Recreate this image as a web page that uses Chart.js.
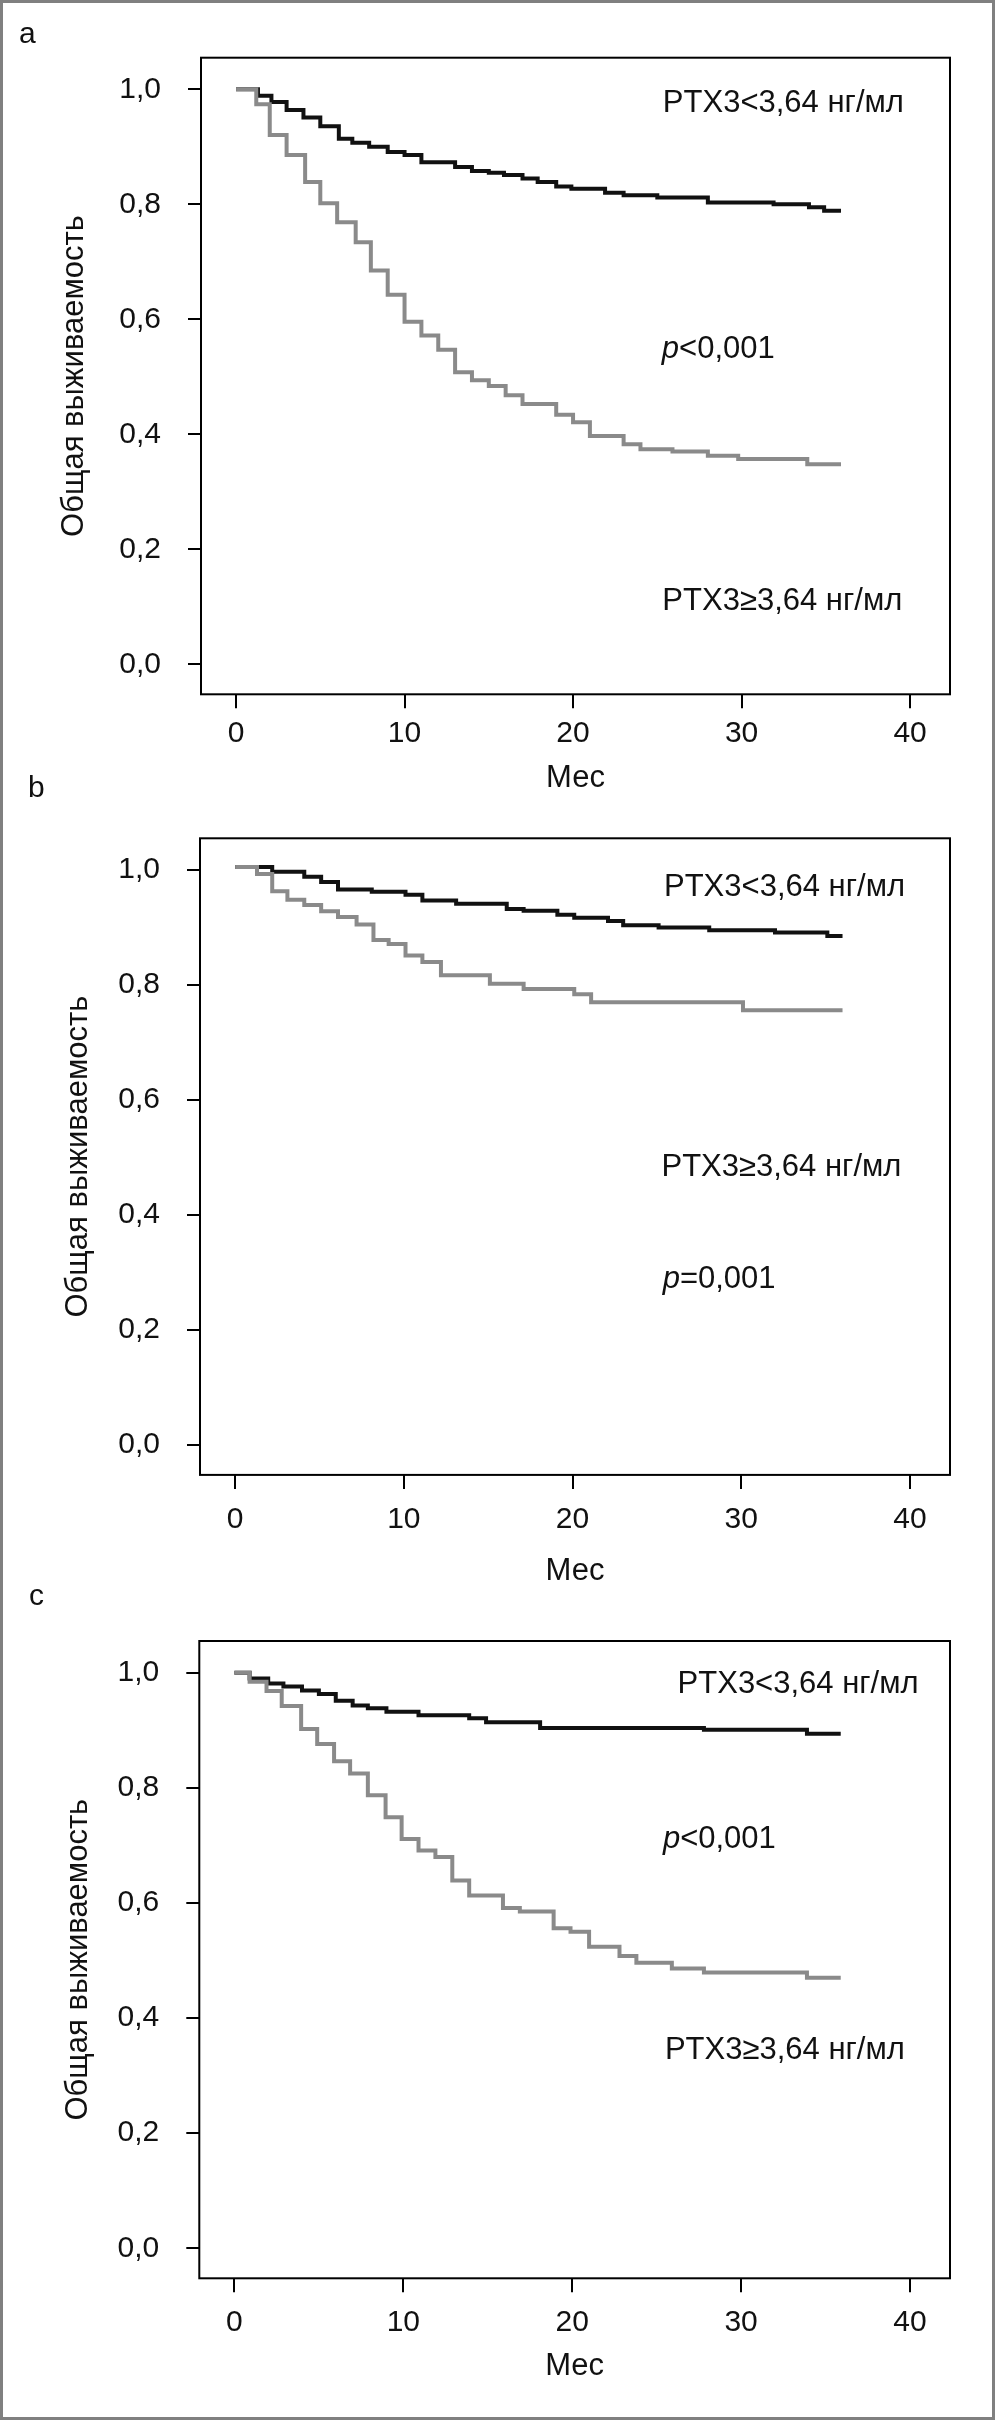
<!DOCTYPE html>
<html>
<head>
<meta charset="utf-8">
<script src="https://cdn.jsdelivr.net/npm/chart.js@4"></script>
<style>
  html, body { margin: 0; padding: 0; background: #fff; }
  #page { position: relative; width: 995px; height: 2420px; overflow: hidden; }
  #frame { position: absolute; left: 0; top: 0; width: 995px; height: 2420px;
           box-sizing: border-box; border: 3px solid #808080; pointer-events: none; }
  canvas { position: absolute; left: 0; }
  .tag { position: absolute; font: 30px 'Liberation Sans', Arial, sans-serif;
         line-height: 30px; color: #111; }
</style>
</head>
<body>
<div id="page">
  <canvas id="chartA" width="995" height="810" style="top:0px"></canvas>
  <canvas id="chartB" width="995" height="810" style="top:780px"></canvas>
  <canvas id="chartC" width="995" height="860" style="top:1560px"></canvas>
  <div class="tag" style="left:19px; top:17.6px">a</div>
  <div class="tag" style="left:28px; top:772px">b</div>
  <div class="tag" style="left:29px; top:1580px">c</div>
  <div id="frame"></div>
</div>
<script>
// Шкалы
const xTicks = [0, 10, 20, 30, 40];
const yTicks = [0, 0.2, 0.4, 0.6, 0.8, 1.0];

// a: месяцы и выживаемость
const aLowT  = [0, 1.3, 2.1, 3.0, 4.0, 5.0, 6.1, 6.9, 7.9, 9.0, 10.0, 11.0, 13.0, 14.0, 15.0, 15.9, 17.0, 17.9, 19.0, 19.9, 21.9, 23.0, 25.0, 28.0, 31.9, 34.0, 34.9, 35.9];
const aLowS  = [1.0, 0.989, 0.978, 0.964, 0.951, 0.936, 0.914, 0.907, 0.900, 0.891, 0.886, 0.873, 0.865, 0.858, 0.855, 0.851, 0.845, 0.839, 0.831, 0.827, 0.820, 0.816, 0.812, 0.803, 0.800, 0.795, 0.789, 0.789];
const aHighT = [0, 1.2, 2.0, 3.0, 4.1, 5.0, 6.0, 7.1, 8.0, 9.0, 10.0, 11.0, 12.0, 13.0, 14.0, 15.0, 16.0, 17.0, 19.0, 20.0, 21.0, 23.0, 24.0, 25.9, 28.0, 29.8, 33.9, 35.9];
const aHighS = [1.0, 0.974, 0.9205, 0.886, 0.839, 0.802, 0.769, 0.734, 0.685, 0.643, 0.596, 0.572, 0.547, 0.508, 0.494, 0.484, 0.468, 0.453, 0.434, 0.421, 0.397, 0.383, 0.374, 0.370, 0.363, 0.357, 0.348, 0.348];

// b
const bLowT  = [0, 2.2, 4.1, 5.1, 6.1, 8.1, 10.1, 11.1, 13.1, 16.1, 17.1, 19.1, 20.1, 22.1, 23.0, 25.1, 28.1, 32.0, 35.1, 36.0];
const bLowS  = [1.005, 0.997, 0.988, 0.979, 0.966, 0.962, 0.957, 0.947, 0.941, 0.932, 0.929, 0.922, 0.917, 0.911, 0.904, 0.900, 0.895, 0.891, 0.885, 0.885];
const bHighT = [0, 1.3, 2.2, 3.1, 4.1, 5.1, 6.1, 7.2, 8.2, 9.1, 10.1, 11.1, 12.2, 15.1, 17.1, 20.1, 21.1, 30.1, 36.0];
const bHighS = [1.005, 0.993, 0.963, 0.948, 0.939, 0.928, 0.918, 0.905, 0.878, 0.871, 0.851, 0.840, 0.817, 0.802, 0.793, 0.784, 0.770, 0.756, 0.756];

// c
const cLowT  = [0, 0.9, 2.0, 2.9, 4.0, 5.0, 6.0, 7.0, 7.9, 9.0, 10.9, 13.9, 14.9, 18.1, 27.8, 33.9, 35.9];
const cLowS  = [1.0, 0.99, 0.981, 0.976, 0.969, 0.963, 0.951, 0.943, 0.938, 0.932, 0.926, 0.921, 0.914, 0.904, 0.901, 0.894, 0.894];
const cHighT = [0, 0.9, 1.9, 2.8, 3.95, 4.9, 5.9, 6.85, 7.9, 8.95, 9.9, 10.9, 11.9, 12.9, 13.9, 15.9, 16.9, 18.9, 19.9, 21.0, 22.8, 23.8, 25.9, 27.8, 33.9, 35.9];
const cHighS = [1.0, 0.984, 0.968, 0.942, 0.902, 0.876, 0.846, 0.825, 0.787, 0.749, 0.711, 0.691, 0.680, 0.639, 0.613, 0.591, 0.585, 0.556, 0.550, 0.524, 0.508, 0.496, 0.486, 0.479, 0.470, 0.470];

const lowLabel = 'PTX3<3,64 нг/мл';
const highLabel = 'PTX3≥3,64 нг/мл';
const yTitle = 'Общая выживаемость';
const xTitle = 'Мес';

const FONT = "'Liberation Sans', Arial, sans-serif";
const INK = '#111';
const GREY = '#8a8a8a';

function toPoints(t, s) {
    return t.map((v, i) => ({ x: v, y: s[i] }));
}

const frameAndNotes = {
    id: 'frameAndNotes',
    afterDatasetsDraw(chart, args, opts) {
        const { ctx, chartArea: a, scales: { x, y } } = chart;
        ctx.save();
        ctx.strokeStyle = '#000';
        ctx.lineWidth = 2;
        ctx.strokeRect(a.left, a.top, a.right - a.left, a.bottom - a.top);
        ctx.fillStyle = INK;
        ctx.textAlign = 'left';
        ctx.textBaseline = 'alphabetic';
        opts.notes.forEach(n => {
            let px = x.getPixelForValue(n.at[0]);
            const py = y.getPixelForValue(n.at[1]);
            if (n.italic) {
                ctx.font = 'italic 31px ' + FONT;
                ctx.fillText(n.italic, px, py);
                px += ctx.measureText(n.italic).width;
            }
            ctx.font = '31px ' + FONT;
            ctx.fillText(n.text, px, py);
        });
        ctx.restore();
    }
};

const panels = [
    { id: 'chartA', top: 0, height: 810, box: { left: 201, right: 950, top: 57.7, bottom: 694.3 },
      low: toPoints(aLowT, aLowS), high: toPoints(aHighT, aHighS),
      xPad: 7.7, xTitlePad: 13.4, yTitlePad: 56,
      notes: [
        { text: lowLabel, at: [25.33, 0.961] },
        { italic: 'p', text: '<0,001', at: [25.27, 0.532] },
        { text: highLabel, at: [25.3, 0.095] }
      ] },
    { id: 'chartB', top: 780, height: 810, box: { left: 200, right: 950, top: 838.3, bottom: 1474.9 },
      low: toPoints(bLowT, bLowS), high: toPoints(bHighT, bHighS),
      xPad: 12.8, xTitlePad: 0.1, yTitlePad: 60,
      notes: [
        { text: lowLabel, at: [25.42, 0.954] },
        { text: highLabel, at: [25.27, 0.468] },
        { italic: 'p', text: '=0,001', at: [25.34, 0.2735] }
      ] },
    { id: 'chartC', top: 1560, height: 860, box: { left: 199.3, right: 950, top: 1641, bottom: 2278.3 },
      low: toPoints(cLowT, cLowS), high: toPoints(cHighT, cHighS),
      xPad: 12.7, xTitlePad: 34.6, yTitlePad: 60,
      notes: [
        { text: lowLabel, at: [26.24, 0.965] },
        { italic: 'p', text: '<0,001', at: [25.37, 0.696] },
        { text: highLabel, at: [25.49, 0.3285] }
      ] }
];

function renderPanel(p) {
    const ctx = document.getElementById(p.id).getContext('2d');
    const xAxisHeight = p.top + p.height - p.box.bottom;
    new Chart(ctx, {
        type: 'line',
        data: {
            datasets: [{
                label: highLabel,
                data: p.high,
                borderColor: GREY,
                borderWidth: 4,
                stepped: 'before',
                pointRadius: 0,
                fill: false
            }, {
                label: lowLabel,
                data: p.low,
                borderColor: INK,
                borderWidth: 4,
                stepped: 'before',
                pointRadius: 0,
                fill: false
            }]
        },
        options: {
            responsive: false,
            animation: false,
            devicePixelRatio: 1,
            layout: {
                padding: { left: 0, top: p.box.top - p.top, right: 995 - p.box.right, bottom: 0 }
            },
            plugins: {
                legend: { display: false },
                tooltip: { enabled: false },
                frameAndNotes: { notes: p.notes }
            },
            scales: {
                x: {
                    type: 'linear',
                    min: -2.08,
                    max: 42.37,
                    afterFit: s => { s.height = xAxisHeight; },
                    afterBuildTicks: s => { s.ticks = xTicks.map(v => ({ value: v })); },
                    grid: { drawOnChartArea: false, drawTicks: true, tickLength: 14, color: '#000', lineWidth: 2 },
                    border: { display: false },
                    ticks: {
                        padding: p.xPad,
                        color: INK,
                        maxRotation: 0,
                        font: { family: FONT, size: 30 },
                        callback: v => String(v)
                    },
                    title: {
                        display: true,
                        text: xTitle,
                        color: INK,
                        font: { family: FONT, size: 31 },
                        padding: { top: 0, bottom: p.xTitlePad }
                    }
                },
                y: {
                    min: -0.052,
                    max: 1.055,
                    afterFit: s => { s.width = p.box.left; },
                    afterBuildTicks: s => { s.ticks = yTicks.map(v => ({ value: v })); },
                    grid: { drawOnChartArea: false, drawTicks: true, tickLength: 13, color: '#000', lineWidth: 2 },
                    border: { display: false },
                    ticks: {
                        padding: 27,
                        color: INK,
                        font: { family: FONT, size: 30 },
                        callback: v => v.toFixed(1).replace('.', ',')
                    },
                    title: {
                        display: true,
                        text: yTitle,
                        color: INK,
                        font: { family: FONT, size: 31 },
                        padding: { top: p.yTitlePad, bottom: 0 }
                    }
                }
            }
        },
        plugins: [frameAndNotes]
    });
}

panels.forEach(renderPanel);
</script>
</body>
</html>
